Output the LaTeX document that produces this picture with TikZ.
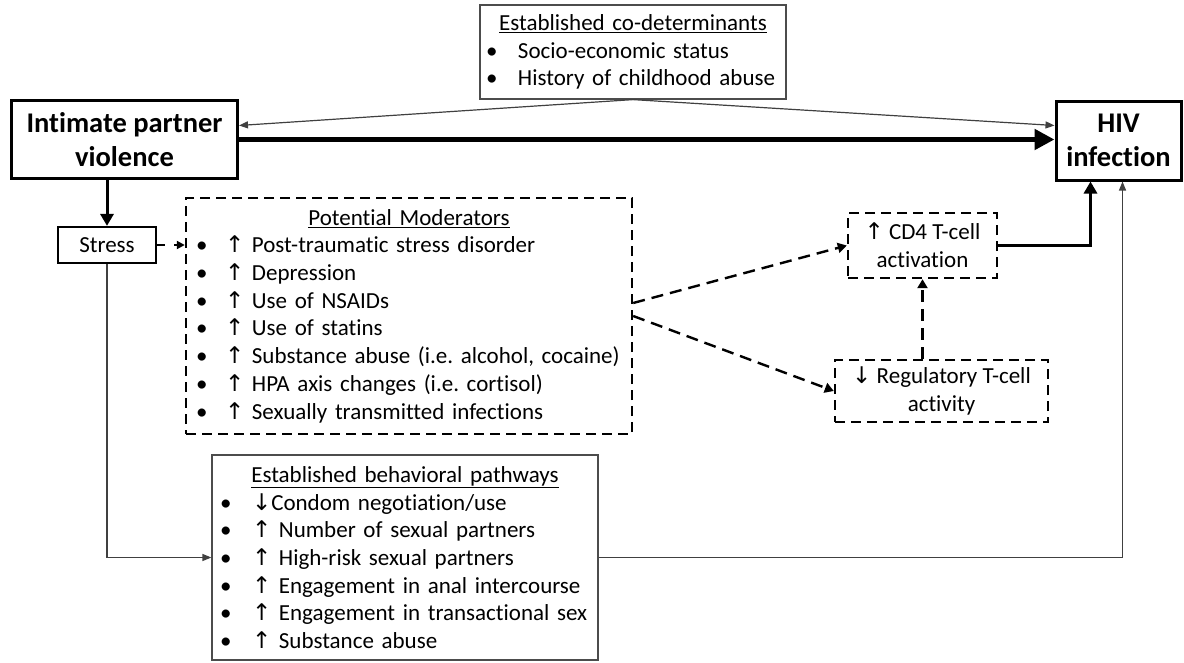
\documentclass[tikz,border=0pt]{standalone}
\usepackage{fontspec}
\setmainfont{Carlito}[Ligatures=NoCommon]
\newfontfamily\arrfont{DejaVu Sans}
\usetikzlibrary{positioning,arrows.meta}
\newcommand{\up}{{\arrfont ↑}}
\newcommand{\dn}{{\arrfont ↓}}
\newcommand{\bul}[1]{\makebox[#1][l]{•}}
\newcommand{\hd}[1]{\makebox[\linewidth]{\underline{#1}}}

\begin{document}
\begin{tikzpicture}[x=1pt,y=-1pt,
    every node/.style={font=\fontsize{23}{27.7}\selectfont},
    main/.style={draw,line width=3pt,align=center,font=\fontsize{28.5}{34}\selectfont\bfseries},
    plain/.style={draw,line width=2.2pt},
    thin/.style={draw=black!70,line width=1.2pt,align=left,inner ysep=0pt},
    dbox/.style={draw,line width=2.4pt,dash pattern=on 10pt off 6pt,align=left,inner ysep=0pt},
    fat/.style={line width=5pt,-{Triangle[length=20pt,width=20pt]}},
    mid/.style={line width=3pt,-{Triangle[length=12pt,width=13pt]}},
    lite/.style={draw=black!75,line width=1.2pt,-{Triangle[length=9pt,width=7pt]}},
    dasharr/.style={line width=2.4pt,dash pattern=on 12pt off 7pt,-{Triangle[length=9pt,width=10pt]}}]
    \useasboundingbox (0,0) rectangle (1184,662);
    \node[main,minimum width=226,minimum height=78] (ipv) at (124.5,139.5) {Intimate partner\\violence};
    \node[main,minimum width=125,minimum height=79] (hiv) at (1118.5,140.5) {HIV\\infection};
    \node[plain,minimum width=98,minimum height=36] (stress) at (107,245) {Stress};
    \node[thin,text width=294,inner xsep=6,minimum height=94] (codet) at (633,52)
      {\hd{Established co-determinants}\\
       \bul{32pt}Socio-economic status\\
       \bul{32pt}History of childhood abuse};
    \node[dbox,text width=426,inner xsep=10,minimum height=236] (mod) at (409,316)
      {\hd{Potential Moderators}\\
       \bul{29pt}\up\ Post-traumatic stress disorder\\
       \bul{29pt}\up\ Depression\\
       \bul{29pt}\up\ Use of NSAIDs\\
       \bul{29pt}\up\ Use of statins\\
       \bul{29pt}\up\ Substance abuse (i.e.\ alcohol, cocaine)\\
       \bul{29pt}\up\ HPA axis changes (i.e.\ cortisol)\\
       \bul{29pt}\up\ Sexually transmitted infections};
    \node[dbox,align=center,minimum width=149,minimum height=65] (cd4) at (922.5,245.5) {\up\ CD4 T-cell\\activation};
    \node[dbox,align=center,minimum width=213,minimum height=62] (reg) at (941.5,391) {\dn\ Regulatory T-cell\\activity};
    \node[thin,text width=370,inner xsep=8,minimum height=205] (beh) at (405,557.5)
      {\hd{Established behavioral pathways}\\
       \bul{32pt}\dn Condom negotiation/use\\
       \bul{32pt}\up\ Number of sexual partners\\
       \bul{32pt}\up\ High-risk sexual partners\\
       \bul{32pt}\up\ Engagement in anal intercourse\\
       \bul{32pt}\up\ Engagement in transactional sex\\
       \bul{32pt}\up\ Substance abuse};
    % main path
    \draw[fat] (ipv.east) -- (ipv.east -| hiv.west);
    \draw[lite] (codet.south) -- ([yshift=14pt]ipv.east);
    \draw[lite] (codet.south) -- ([yshift=14pt]ipv.east -| hiv.west);
    \draw[mid] (stress.north |- ipv.south) -- (stress.north);
    \draw[dasharr,line width=2pt,dash pattern=on 8pt off 9pt,-{Triangle[length=8pt,width=8pt]}] (stress.east) -- (stress.east -| mod.west);
    \draw[dasharr] ([yshift=13pt]mod.east) -- (cd4.west);
    \draw[dasharr] (mod.east) -- (reg.west);
    \draw[dasharr] (cd4.south |- reg.north) -- (cd4.south);
    \draw[mid] (cd4.east) -| ([xshift=-28pt]hiv.south);
    \draw[lite] (stress.south) |- (beh.west);
    \draw[lite] (beh.east) -| ([xshift=4pt]hiv.south);
  \end{tikzpicture}
\end{document}
